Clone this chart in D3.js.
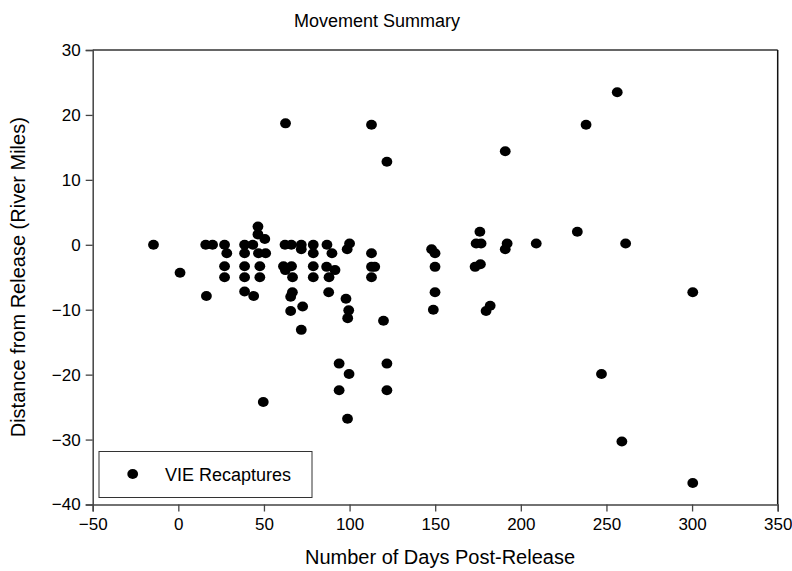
<!DOCTYPE html>
<html>
<head>
<meta charset="utf-8">
<script src="https://cdn.jsdelivr.net/npm/d3@7"></script>
<style>
  html, body { margin: 0; padding: 0; background: #fff; }
  text { font-family: Arial, "Liberation Sans", sans-serif; fill: #000; }
</style>
</head>
<body>
<svg id="chart" width="792" height="571"></svg>
<script>
// ---- data ----
const days = [
  -14.5, 1, 16.4, 16, 20, 27, 28.3, 27, 27,
  38.7, 43.5, 38.7, 38.7, 38.7, 38.7, 44,
  46.5, 46.5, 50.5, 46.8, 51, 47.6, 47.6, 49.6,
  62.6, 62.3, 66, 71.8, 71.8, 78.8, 78.8, 78.8, 78.8,
  86.8, 89.7, 61.4, 62.5, 66.1, 66.7, 66.6, 65.6, 65.6, 72.6, 71.8,
  86.6, 91.5, 88, 87.8, 100, 98.6, 97.9, 99.5, 98.9,
  112.8, 121.8, 112.8, 112.8, 114.7, 112.8, 119.8,
  93.9, 99.7, 93.9, 98.8, 121.8, 121.8,
  147.9, 149.9, 149.9, 149.9, 148.9,
  176.1, 173.9, 176.8, 173.3, 176.4, 182.1, 179.7,
  190.9, 192, 190.9, 209,
  256.3, 238.1, 233, 261.2, 300.4, 247.1, 259, 300.4
];
const miles = [
  0, -4.3, -7.9, 0, 0, 0, -1.3, -3.3, -5.0,
  0, 0, -1.3, -3.3, -5.0, -7.2, -7.9,
  2.8, 1.6, 0.9, -1.3, -1.3, -3.3, -5.0, -24.2,
  18.7, 0, 0, 0, -0.7, 0, -1.3, -3.3, -5.0,
  0, -1.3, -3.3, -3.9, -3.3, -5.0, -7.3, -8.0, -10.2, -9.5, -13.1,
  -3.4, -3.9, -5.0, -7.3, 0.2, -0.7, -8.3, -10.1, -11.3,
  18.5, 12.8, -1.3, -3.4, -3.4, -5.0, -11.7,
  -18.3, -19.9, -22.4, -26.8, -18.3, -22.4,
  -0.7, -1.3, -3.4, -7.3, -10.0,
  2.0, 0.2, 0.2, -3.4, -3.0, -9.4, -10.2,
  14.4, 0.2, -0.7, 0.2,
  23.5, 18.5, 2.0, 0.2, -7.3, -19.9, -30.3, -36.7
];
const xTicks = [-50, 0, 50, 100, 150, 200, 250, 300, 350];
const yTicks = [-40, -30, -20, -10, 0, 10, 20, 30];
const titleText = "Movement Summary";
const xLabel = "Number of Days Post-Release";
const yLabel = "Distance from Release (River Miles)";
const legendLabel = "VIE Recaptures";

// ---- layout ----
const svg = d3.select("#chart");
const L = 92.7, R = 777.7, T = 50, B = 504.5;
const x = d3.scaleLinear().domain([-50, 350]).range([L, R]);
const y = d3.scaleLinear().domain([-40, 30]).range([B, T]);

// frame top & right
svg.append("line").attr("x1", L).attr("x2", R).attr("y1", T).attr("y2", T)
  .attr("stroke", "#333").attr("stroke-width", 1.5);
svg.append("line").attr("x1", R).attr("x2", R).attr("y1", T).attr("y2", B)
  .attr("stroke", "#111").attr("stroke-width", 1.5);

// axes
const xAxis = d3.axisBottom(x).tickValues(xTicks).tickSize(7).tickPadding(6);
const yAxis = d3.axisLeft(y).tickValues(yTicks).tickSize(7).tickPadding(5);
const gx = svg.append("g").attr("transform", `translate(0,${B})`).call(xAxis);
const gy = svg.append("g").attr("transform", `translate(${L},0)`).call(yAxis);
[gx, gy].forEach(g => {
  g.select(".domain").attr("stroke", "#444").attr("stroke-width", 1.5);
  g.selectAll(".tick line").attr("stroke", "#444").attr("stroke-width", 1.3);
  g.selectAll(".tick text").style("font-size", "17px").style("font-family", "Arial, 'Liberation Sans', sans-serif").attr("fill", "#000");
});

// points
const pts = days.map((d, i) => ({ d, m: miles[i] }));
svg.append("g").selectAll("ellipse").data(pts).enter().append("ellipse")
  .attr("cx", p => x(p.d)).attr("cy", p => y(p.m))
  .attr("rx", 5.4).attr("ry", 5).attr("fill", "#000");

// title & labels
svg.append("text").attr("x", 377).attr("y", 27).attr("text-anchor", "middle")
  .style("font-size", "18px").text(titleText);
svg.append("text").attr("x", 440).attr("y", 564).attr("text-anchor", "middle")
  .style("font-size", "20px").text(xLabel);
svg.append("text").attr("transform", `translate(25,${(T + B) / 2}) rotate(-90)`)
  .attr("text-anchor", "middle").style("font-size", "20px").text(yLabel);

// legend
const lg = svg.append("g");
lg.append("rect").attr("x", 99).attr("y", 451.5).attr("width", 213).attr("height", 46)
  .attr("fill", "#fff").attr("stroke", "#333").attr("stroke-width", 1);
lg.append("ellipse").attr("cx", 132.7).attr("cy", 474).attr("rx", 5.4).attr("ry", 5).attr("fill", "#000");
lg.append("text").attr("x", 165).attr("y", 480.5).style("font-size", "18px").text(legendLabel);
</script>
</body>
</html>
